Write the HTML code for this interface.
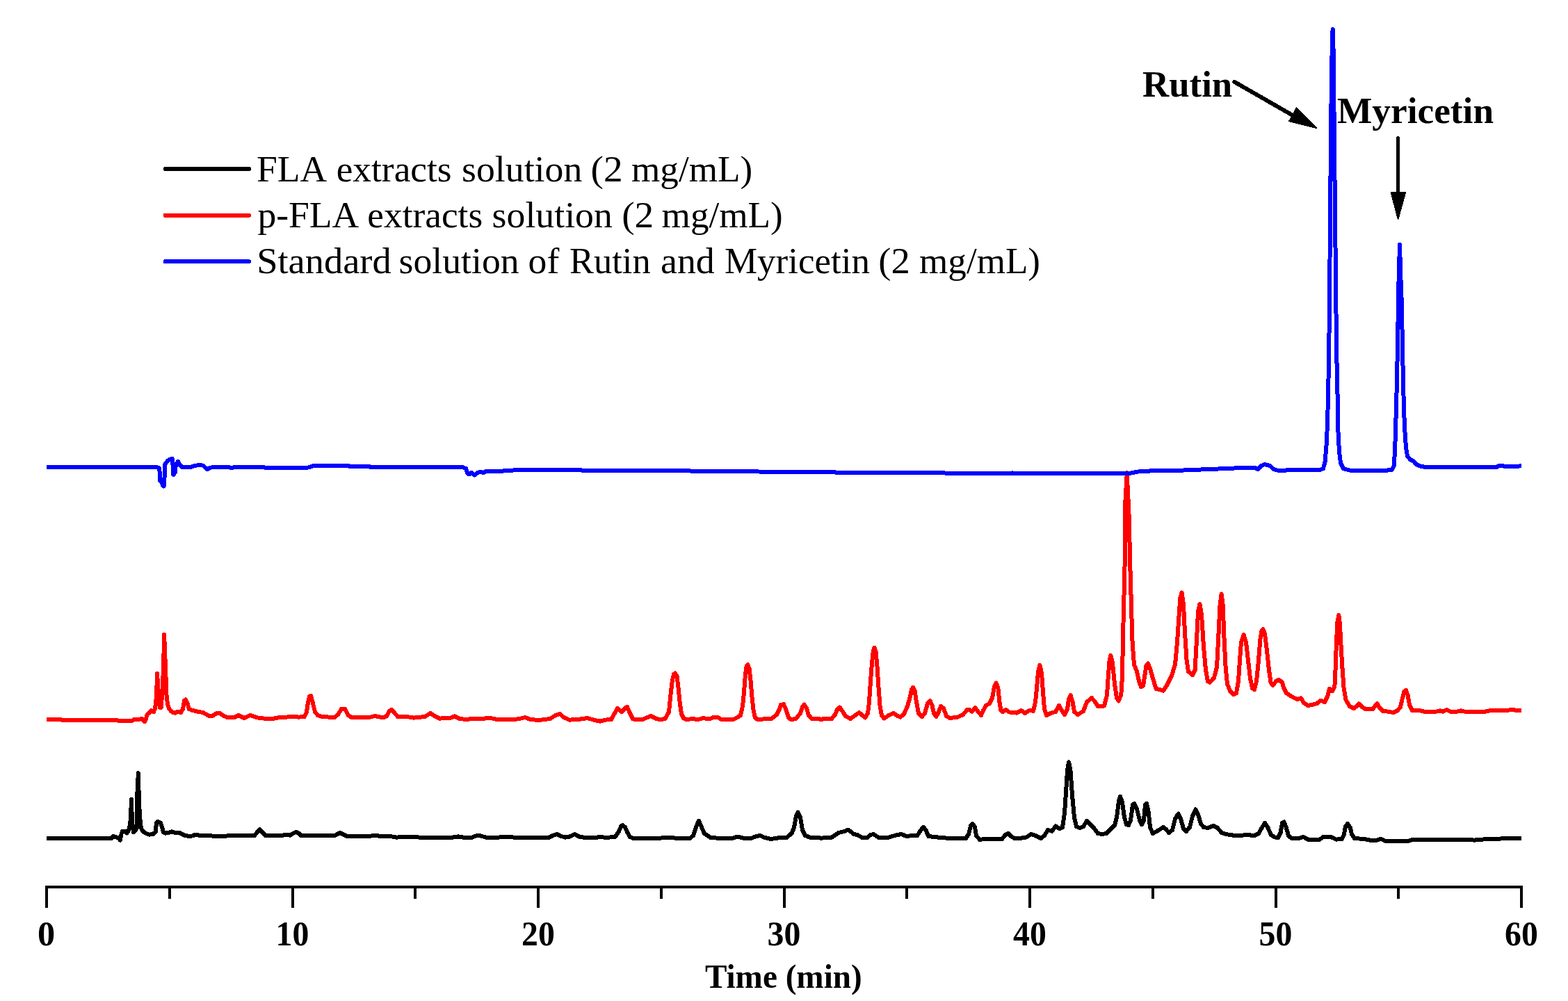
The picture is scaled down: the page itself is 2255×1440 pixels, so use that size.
<!DOCTYPE html>
<html lang="en">
<head>
<meta charset="utf-8">
<title>HPLC chromatograms</title>
<style>
html,body{margin:0;padding:0;background:#fff;}
body{width:2255px;height:1440px;overflow:hidden;}
svg{display:block;}
text{font-family:"Liberation Serif",serif;fill:#000;}
.b{font-weight:bold;}
.curve{fill:none;stroke-width:6;stroke-linejoin:round;stroke-linecap:butt;shape-rendering:crispEdges;}
</style>
</head>
<body>
<svg width="2255" height="1440" viewBox="0 0 2255 1440">
<rect x="0" y="0" width="2255" height="1440" fill="#ffffff"/>
<polyline class="curve" stroke="#000000" points="67.0,1205.6 82.0,1205.6 84.0,1206.0 160.0,1206.0 163.0,1203.0 167.0,1204.5 170.0,1205.0 172.7,1208.6 174.5,1200.0 176.0,1195.6 180.0,1195.6 182.3,1198.5 184.5,1196.0 186.3,1190.0 187.3,1184.0 188.1,1175.0 188.9,1149.8 189.6,1170.0 190.3,1185.0 192.0,1197.4 194.8,1194.3 196.6,1191.0 197.3,1180.0 197.4,1141.0 198.3,1128.0 198.7,1112.3 199.3,1130.0 199.8,1148.0 200.8,1170.0 201.7,1182.0 202.7,1190.0 204.3,1194.2 207.4,1197.3 211.0,1199.5 215.0,1200.6 220.0,1200.0 223.6,1197.0 225.0,1184.0 227.0,1182.0 231.0,1184.0 233.0,1190.0 235.0,1197.0 238.0,1198.6 242.0,1198.0 247.0,1196.4 252.0,1198.0 259.0,1198.4 265.0,1201.6 272.0,1203.0 277.0,1202.4 281.0,1200.6 286.0,1201.6 300.0,1202.0 310.0,1203.0 324.0,1203.0 328.0,1202.0 366.0,1202.0 370.0,1197.0 373.6,1193.0 377.0,1197.0 382.0,1202.0 406.0,1202.0 410.0,1200.6 417.0,1201.6 422.0,1198.6 426.0,1197.0 430.0,1199.0 433.0,1202.0 451.0,1202.0 471.0,1202.0 481.0,1202.4 485.0,1200.0 489.0,1198.0 494.0,1200.6 499.0,1203.0 531.0,1203.0 540.0,1201.6 547.0,1203.0 561.0,1203.0 570.0,1204.6 591.0,1203.6 603.0,1204.6 651.0,1204.6 659.0,1203.4 666.0,1204.6 679.0,1204.6 684.0,1202.6 688.0,1201.6 693.0,1203.0 699.0,1204.6 717.0,1204.6 731.0,1203.6 739.0,1204.6 775.0,1205.0 789.0,1205.0 795.0,1202.0 801.0,1200.0 807.0,1203.0 813.0,1204.6 819.0,1203.6 826.4,1200.0 833.0,1203.6 839.0,1204.6 853.0,1205.4 863.0,1204.0 873.0,1205.0 885.0,1203.6 890.0,1196.0 893.0,1189.0 895.4,1187.0 899.0,1190.0 902.0,1197.0 906.0,1204.0 911.0,1206.0 948.0,1206.0 954.0,1205.0 968.0,1205.0 972.0,1206.0 992.0,1206.0 997.0,1202.0 1001.0,1190.0 1005.0,1180.6 1009.0,1190.0 1013.0,1199.0 1022.0,1205.0 1038.0,1206.0 1054.0,1205.6 1061.0,1203.6 1070.0,1206.0 1080.0,1206.0 1086.0,1203.6 1093.0,1202.0 1100.0,1205.0 1109.0,1207.0 1122.0,1205.0 1132.0,1204.6 1139.0,1198.0 1142.0,1190.0 1145.0,1174.0 1147.6,1168.4 1151.0,1176.0 1154.0,1194.0 1158.0,1202.0 1166.0,1205.0 1182.0,1205.6 1196.0,1204.6 1206.0,1198.0 1214.0,1196.0 1220.0,1193.6 1228.0,1200.0 1233.0,1201.0 1240.0,1205.0 1247.0,1205.0 1252.0,1201.0 1256.0,1200.0 1264.0,1205.0 1278.0,1204.6 1288.0,1201.6 1296.0,1200.0 1304.0,1203.0 1312.0,1202.0 1319.0,1202.4 1323.0,1196.0 1328.0,1189.6 1332.0,1195.0 1335.0,1203.0 1353.0,1205.0 1373.0,1206.4 1389.0,1206.0 1393.0,1200.0 1396.0,1188.0 1398.6,1185.0 1402.0,1190.0 1404.0,1202.0 1409.0,1208.0 1417.0,1206.6 1433.0,1206.6 1441.0,1207.0 1446.0,1201.0 1450.0,1199.0 1454.0,1203.0 1459.0,1206.0 1467.0,1206.0 1476.0,1204.4 1483.0,1200.0 1489.0,1202.0 1497.0,1206.0 1502.0,1202.0 1507.0,1194.0 1513.0,1195.6 1518.0,1188.4 1524.0,1192.4 1528.0,1190.0 1531.0,1170.0 1533.0,1140.0 1535.0,1108.0 1537.0,1096.2 1539.4,1108.0 1542.0,1144.0 1545.0,1176.0 1548.0,1189.0 1553.0,1191.0 1558.0,1189.0 1563.0,1181.0 1568.0,1186.0 1573.0,1191.0 1579.0,1199.0 1585.0,1200.0 1591.0,1199.0 1597.0,1193.0 1603.0,1187.0 1606.0,1176.0 1609.0,1152.0 1611.0,1146.0 1614.0,1154.0 1617.0,1176.0 1620.0,1186.0 1623.0,1187.0 1626.0,1180.0 1629.0,1158.0 1631.4,1156.0 1635.0,1164.0 1639.0,1180.0 1642.0,1186.0 1645.0,1180.0 1647.0,1158.0 1649.0,1156.0 1651.4,1166.0 1654.0,1190.0 1658.0,1199.0 1665.0,1195.0 1673.0,1190.0 1677.0,1193.0 1681.0,1198.0 1686.0,1194.0 1690.0,1178.0 1694.6,1170.6 1698.0,1178.0 1702.0,1192.0 1706.0,1196.0 1711.0,1190.0 1715.0,1174.0 1719.4,1164.4 1723.0,1172.0 1727.0,1185.0 1731.0,1190.0 1737.0,1191.0 1745.0,1188.0 1751.0,1191.0 1757.0,1198.0 1763.0,1200.0 1773.0,1201.6 1783.0,1202.0 1793.0,1201.0 1804.0,1202.0 1810.0,1199.0 1814.0,1192.0 1819.0,1184.0 1823.0,1190.0 1828.0,1201.0 1833.0,1204.4 1838.0,1205.0 1841.6,1198.0 1844.0,1184.0 1846.6,1182.4 1849.6,1190.0 1853.0,1202.0 1857.0,1205.6 1868.0,1206.0 1874.4,1204.0 1881.0,1207.6 1898.0,1207.6 1903.0,1204.0 1913.0,1203.6 1922.0,1207.6 1930.0,1207.0 1933.0,1200.0 1935.0,1189.0 1938.0,1185.0 1941.6,1190.0 1944.0,1200.0 1948.0,1206.0 1962.0,1207.0 1970.0,1208.6 1980.0,1208.6 1985.6,1206.6 1992.0,1209.6 2026.0,1209.6 2030.0,1208.4 2104.0,1208.4 2112.0,1207.6 2120.0,1208.6 2130.0,1208.0 2138.0,1206.6 2152.0,1207.0 2164.0,1206.0 2188.0,1205.6"/>
<polyline class="curve" stroke="#ff0000" points="67.0,1035.4 88.0,1035.4 90.0,1036.0 168.0,1036.0 170.0,1036.8 190.0,1036.8 193.0,1035.0 200.0,1035.0 204.0,1033.6 208.0,1038.0 210.0,1034.0 211.6,1028.0 215.0,1025.0 217.6,1022.0 221.0,1024.0 223.0,1019.0 224.1,1012.0 225.1,999.0 226.1,969.0 226.8,981.0 228.0,1000.0 230.0,1017.8 231.8,1017.8 233.0,1000.0 234.2,980.0 235.2,955.0 236.1,913.0 236.8,930.0 237.8,955.0 238.8,982.0 239.6,1002.0 241.0,1013.0 243.0,1019.0 246.0,1023.0 249.0,1025.0 252.0,1025.6 256.0,1023.6 260.0,1025.0 263.0,1020.0 265.0,1008.0 267.0,1006.4 269.6,1012.0 272.0,1020.0 276.0,1021.6 284.0,1023.6 292.0,1025.0 300.0,1029.6 306.0,1029.6 311.0,1026.4 316.0,1026.0 322.0,1030.0 328.0,1032.4 336.0,1032.4 343.0,1029.0 351.0,1033.0 360.0,1029.0 370.0,1032.4 380.0,1033.6 394.0,1033.6 400.0,1032.4 420.0,1031.0 430.0,1031.6 438.0,1031.0 441.0,1024.0 443.0,1010.0 445.0,1002.0 447.0,1001.0 449.6,1010.0 451.0,1016.0 453.0,1024.0 457.0,1029.0 463.0,1031.0 481.0,1032.0 486.0,1028.0 491.0,1020.0 496.0,1020.0 501.0,1029.0 505.0,1031.6 531.0,1032.0 539.0,1030.0 551.0,1032.4 556.0,1030.0 560.0,1023.0 563.0,1021.0 567.0,1025.0 572.0,1031.0 591.0,1031.6 595.0,1032.6 611.0,1031.0 619.0,1026.0 625.0,1030.0 632.0,1033.6 647.0,1033.0 654.0,1030.4 661.0,1034.0 671.0,1035.0 681.0,1033.6 697.0,1033.6 704.0,1032.6 715.0,1035.0 739.0,1035.0 747.0,1034.0 755.0,1032.0 763.0,1035.0 775.0,1036.0 791.0,1034.0 799.0,1029.0 805.0,1027.0 811.0,1032.0 819.0,1035.6 831.0,1035.0 845.0,1033.0 855.0,1036.0 863.0,1037.6 871.0,1035.6 879.0,1035.0 884.0,1026.0 888.0,1019.0 894.0,1024.0 900.0,1018.0 902.0,1017.0 906.0,1026.0 910.0,1034.0 914.0,1035.4 924.0,1035.4 930.0,1032.4 936.0,1030.0 943.0,1033.6 950.0,1035.4 957.0,1033.6 962.0,1024.0 964.4,1000.0 967.0,978.0 969.0,970.0 971.0,968.4 973.6,973.0 975.6,990.0 977.6,1010.0 980.0,1027.0 983.0,1033.0 988.0,1035.4 996.0,1033.6 1003.0,1035.4 1011.0,1033.0 1020.0,1034.4 1027.0,1031.6 1032.0,1031.6 1038.0,1035.4 1054.0,1035.4 1060.0,1032.4 1065.0,1029.0 1068.0,1016.0 1070.0,996.0 1072.0,970.0 1073.6,958.0 1075.4,956.0 1077.6,962.0 1079.6,980.0 1081.6,1004.0 1083.6,1022.0 1086.0,1032.4 1090.0,1035.4 1098.0,1034.4 1110.0,1033.6 1117.0,1028.0 1121.0,1020.0 1123.0,1014.0 1127.0,1013.0 1130.0,1020.0 1134.0,1032.4 1138.0,1035.4 1145.0,1033.6 1151.0,1026.0 1154.0,1017.0 1156.6,1013.6 1160.0,1019.0 1163.0,1029.0 1168.0,1034.4 1178.0,1034.0 1181.0,1035.4 1184.0,1034.0 1196.0,1034.0 1201.0,1028.0 1204.4,1020.0 1207.6,1017.6 1211.6,1023.0 1216.0,1030.0 1223.0,1034.0 1230.0,1029.0 1235.6,1025.0 1240.0,1029.0 1244.4,1032.4 1248.0,1026.0 1250.0,1010.0 1252.0,980.0 1254.0,954.0 1255.6,938.0 1257.4,931.6 1259.6,938.0 1261.6,960.0 1263.6,990.0 1265.6,1016.0 1268.0,1029.0 1271.6,1033.6 1278.0,1029.0 1285.0,1026.0 1291.0,1030.0 1295.0,1031.6 1300.0,1027.0 1305.0,1016.0 1309.0,1002.0 1311.0,992.0 1313.0,989.0 1315.6,994.0 1318.0,1010.0 1321.0,1026.0 1326.0,1031.0 1330.0,1026.0 1334.0,1012.0 1337.6,1008.4 1340.4,1014.0 1343.0,1026.0 1346.4,1031.0 1350.0,1024.0 1353.0,1016.0 1357.0,1019.0 1361.0,1030.0 1366.0,1033.0 1377.0,1031.6 1385.0,1028.0 1391.0,1021.0 1394.0,1021.0 1398.0,1023.6 1402.6,1018.4 1406.0,1023.0 1411.0,1029.0 1414.0,1022.0 1418.0,1015.0 1423.0,1012.0 1427.0,1004.0 1430.0,988.0 1432.6,982.4 1435.4,990.0 1437.4,1010.0 1439.4,1022.0 1442.0,1024.0 1446.6,1021.0 1451.0,1024.4 1462.0,1025.6 1468.6,1022.0 1474.0,1026.0 1481.0,1021.6 1486.0,1023.0 1489.0,1010.0 1491.0,990.0 1493.0,966.0 1495.4,956.8 1498.0,968.0 1500.0,996.0 1502.0,1020.0 1505.0,1029.0 1512.0,1025.6 1518.0,1024.0 1523.0,1015.0 1527.0,1022.0 1531.0,1028.0 1535.0,1020.0 1537.0,1006.0 1539.6,1000.0 1542.6,1010.0 1545.0,1024.0 1550.0,1028.0 1558.0,1023.0 1563.0,1010.0 1570.0,1004.0 1575.0,1010.0 1579.0,1016.0 1588.0,1015.6 1592.0,1000.0 1594.0,970.0 1595.6,950.0 1597.4,942.7 1600.0,954.0 1603.0,984.0 1606.0,1004.0 1608.6,1008.4 1612.0,1000.0 1613.2,990.0 1614.2,960.0 1615.4,900.0 1616.4,860.0 1617.4,820.0 1618.1,790.0 1618.2,725.0 1619.1,708.0 1620.4,688.0 1620.7,680.1 1620.9,690.0 1622.0,705.0 1623.0,730.0 1624.1,752.0 1624.8,800.0 1625.8,830.0 1627.2,880.0 1628.6,925.0 1631.0,956.0 1635.0,966.0 1638.0,980.0 1641.0,988.0 1644.0,987.0 1646.6,970.0 1648.6,957.0 1651.0,954.4 1654.0,962.0 1658.0,976.0 1662.6,991.0 1668.0,992.0 1673.0,993.6 1678.0,986.0 1685.0,972.0 1690.0,956.0 1693.0,924.0 1695.4,888.0 1697.4,860.0 1699.6,852.4 1702.0,870.0 1704.0,910.0 1706.6,950.0 1709.0,966.0 1715.0,971.0 1718.6,964.0 1721.0,920.0 1723.0,880.0 1725.4,869.0 1728.0,884.0 1731.0,930.0 1734.0,964.0 1737.0,980.0 1740.0,981.6 1746.0,975.0 1750.0,960.0 1752.6,910.0 1754.6,870.0 1756.6,854.4 1758.6,870.0 1760.6,920.0 1762.6,960.0 1765.0,984.0 1769.0,994.0 1774.0,999.0 1778.0,997.0 1781.0,980.0 1783.0,950.0 1785.0,924.0 1788.6,913.0 1792.0,924.0 1795.0,950.0 1798.0,976.0 1801.0,990.0 1804.0,992.0 1807.0,980.0 1810.0,950.0 1812.4,920.0 1814.4,908.0 1816.4,905.0 1819.0,912.0 1822.0,936.0 1825.0,964.0 1827.6,982.0 1830.4,986.0 1835.0,980.0 1839.0,978.0 1843.6,981.0 1846.4,990.0 1850.0,997.0 1856.0,1001.0 1862.0,1004.4 1866.4,1006.0 1871.0,1004.4 1875.0,1011.0 1881.0,1015.0 1888.0,1013.6 1894.0,1012.0 1899.0,1007.6 1905.0,1010.0 1909.0,1002.0 1912.0,991.0 1916.0,994.4 1919.4,988.0 1920.6,962.0 1922.0,922.0 1923.6,893.0 1925.4,884.8 1926.8,896.0 1928.4,926.0 1930.4,960.0 1932.6,990.0 1935.6,1007.0 1941.0,1016.0 1947.0,1019.0 1951.0,1016.0 1954.4,1012.4 1959.0,1017.0 1964.0,1020.4 1974.0,1020.4 1978.0,1015.0 1980.6,1012.4 1984.0,1018.0 1989.0,1023.0 1996.0,1023.6 2004.0,1025.0 2010.0,1022.0 2014.0,1017.0 2017.0,1004.0 2019.6,994.4 2022.0,993.0 2024.6,1000.0 2027.0,1014.0 2031.0,1022.0 2040.0,1021.6 2048.0,1023.6 2064.0,1024.0 2071.0,1022.4 2075.0,1023.6 2080.4,1021.0 2086.0,1023.6 2094.0,1024.0 2101.0,1022.4 2110.0,1024.4 2136.0,1023.6 2144.0,1022.0 2164.0,1022.0 2176.0,1021.0 2183.0,1022.4 2188.0,1022.0"/>
<polyline class="curve" stroke="#0000ff" points="67.0,672.0 180.0,672.0 182.0,672.4 226.0,672.4 228.6,673.0 229.9,680.0 230.0,691.5 232.0,693.0 234.0,698.0 235.6,699.5 236.4,696.0 236.6,680.0 237.2,668.0 241.0,663.0 244.0,661.0 247.6,660.0 248.6,670.0 249.4,683.0 251.6,680.0 253.0,668.0 256.0,664.0 259.0,669.0 262.0,672.0 274.0,672.0 280.0,670.0 286.0,669.0 292.0,669.6 295.6,673.0 298.0,675.0 302.0,673.0 306.0,672.0 330.0,672.4 333.0,673.2 336.0,672.4 380.0,672.4 382.0,673.2 440.0,673.2 445.0,672.0 451.0,670.0 501.0,670.0 503.0,671.0 531.0,671.0 533.0,672.0 666.0,672.4 670.0,674.0 672.0,680.0 674.6,682.4 678.0,680.0 682.6,683.6 687.0,680.0 691.0,678.6 695.0,680.0 700.0,677.6 723.0,677.6 726.0,676.6 751.0,676.4 767.0,675.6 835.0,676.0 837.0,676.6 902.0,676.6 1042.0,678.0 1178.0,679.4 1308.0,680.0 1353.0,680.4 1400.0,681.2 1454.0,681.2 1456.0,680.4 1460.0,681.2 1500.0,681.4 1560.0,681.4 1620.0,681.2 1626.0,680.6 1632.0,679.4 1640.0,678.0 1652.0,677.6 1662.0,677.0 1700.0,676.6 1730.0,675.4 1760.0,674.2 1790.0,672.8 1804.0,672.6 1809.0,675.0 1814.0,670.0 1819.0,668.0 1826.0,670.0 1832.0,675.0 1840.0,677.4 1848.0,676.6 1864.0,675.6 1898.0,676.0 1903.0,674.0 1905.6,664.0 1907.6,640.0 1909.0,610.0 1910.0,570.0 1911.0,520.0 1912.0,440.0 1913.0,308.0 1914.5,150.0 1915.8,60.0 1916.6,42.0 1917.4,60.0 1918.4,150.0 1920.0,308.0 1921.4,440.0 1922.0,500.0 1923.4,560.0 1924.4,620.0 1926.0,650.0 1928.0,666.0 1932.0,674.0 1940.0,676.4 1950.0,677.4 1992.0,677.4 1996.0,676.4 2002.0,675.6 2004.6,670.0 2006.0,650.0 2007.0,620.0 2008.4,570.0 2009.2,538.0 2010.4,470.0 2011.6,400.0 2013.0,352.0 2014.4,400.0 2016.0,440.0 2016.6,480.0 2017.6,530.0 2019.0,590.0 2020.4,620.0 2022.0,644.0 2024.0,656.0 2028.0,661.0 2033.0,663.6 2037.0,668.0 2042.0,670.4 2050.0,672.0 2064.0,672.4 2152.0,672.0 2156.0,670.0 2160.0,669.6 2164.0,671.0 2182.0,671.0 2188.0,670.0"/>
<g stroke="#000" stroke-width="4" fill="none" stroke-linecap="butt" shape-rendering="crispEdges">
<line x1="65.0" y1="1276.0" x2="2190.0" y2="1276.0"/>
<line x1="67.0" y1="1276.0" x2="67.0" y2="1306"/>
<line x1="243.8" y1="1276.0" x2="243.8" y2="1292.5"/>
<line x1="420.5" y1="1276.0" x2="420.5" y2="1306"/>
<line x1="597.2" y1="1276.0" x2="597.2" y2="1292.5"/>
<line x1="774.0" y1="1276.0" x2="774.0" y2="1306"/>
<line x1="950.8" y1="1276.0" x2="950.8" y2="1292.5"/>
<line x1="1127.5" y1="1276.0" x2="1127.5" y2="1306"/>
<line x1="1304.2" y1="1276.0" x2="1304.2" y2="1292.5"/>
<line x1="1481.0" y1="1276.0" x2="1481.0" y2="1306"/>
<line x1="1657.8" y1="1276.0" x2="1657.8" y2="1292.5"/>
<line x1="1834.5" y1="1276.0" x2="1834.5" y2="1306"/>
<line x1="2011.2" y1="1276.0" x2="2011.2" y2="1292.5"/>
<line x1="2188.0" y1="1276.0" x2="2188.0" y2="1306"/>
</g>
<text class="b" x="66.5" y="1360.3" font-size="50.3" text-anchor="middle">0</text>
<text class="b" x="396.6" y="1360.3" font-size="50.3" textLength="47.8" lengthAdjust="spacingAndGlyphs">10</text>
<text class="b" x="750.1" y="1360.3" font-size="50.3" textLength="47.8" lengthAdjust="spacingAndGlyphs">20</text>
<text class="b" x="1103.6" y="1360.3" font-size="50.3" textLength="47.8" lengthAdjust="spacingAndGlyphs">30</text>
<text class="b" x="1457.1" y="1360.3" font-size="50.3" textLength="47.8" lengthAdjust="spacingAndGlyphs">40</text>
<text class="b" x="1810.6" y="1360.3" font-size="50.3" textLength="47.8" lengthAdjust="spacingAndGlyphs">50</text>
<text class="b" x="2164.1" y="1360.3" font-size="50.3" textLength="47.8" lengthAdjust="spacingAndGlyphs">60</text>
<text class="b" x="1013.9" y="1421" font-size="47.6" textLength="225.8" lengthAdjust="spacingAndGlyphs">Time (min)</text>
<line x1="237.5" y1="243.0" x2="358" y2="243.0" stroke="#000000" stroke-width="6" stroke-linecap="round" shape-rendering="crispEdges"/>
<text y="260.6" font-size="53.6"><tspan x="369.0" textLength="98.3" lengthAdjust="spacingAndGlyphs">FLA</tspan> <tspan x="483.7" textLength="165.9" lengthAdjust="spacingAndGlyphs">extracts</tspan> <tspan x="664.0" textLength="173.3" lengthAdjust="spacingAndGlyphs">solution</tspan> <tspan x="849.6" textLength="46.1" lengthAdjust="spacingAndGlyphs">(2</tspan> <tspan x="908.0" textLength="174.2" lengthAdjust="spacingAndGlyphs">mg/mL)</tspan></text>
<line x1="237.5" y1="309.8" x2="358" y2="309.8" stroke="#ff0000" stroke-width="6" stroke-linecap="round" shape-rendering="crispEdges"/>
<text y="327.0" font-size="53.6"><tspan x="370.4">p-FLA</tspan> <tspan x="528.3" textLength="165.9" lengthAdjust="spacingAndGlyphs">extracts</tspan> <tspan x="707.6" textLength="173.3" lengthAdjust="spacingAndGlyphs">solution</tspan> <tspan x="894.2" textLength="46.1" lengthAdjust="spacingAndGlyphs">(2</tspan> <tspan x="951.6" textLength="174.2" lengthAdjust="spacingAndGlyphs">mg/mL)</tspan></text>
<line x1="237.5" y1="376.3" x2="358" y2="376.3" stroke="#0000ff" stroke-width="6" stroke-linecap="round" shape-rendering="crispEdges"/>
<text y="393.4" font-size="53.6"><tspan x="369.2" textLength="193.5" lengthAdjust="spacingAndGlyphs">Standard</tspan> <tspan x="573.5" textLength="173.1" lengthAdjust="spacingAndGlyphs">solution</tspan> <tspan x="759.6">of</tspan> <tspan x="819.1" textLength="116.5" lengthAdjust="spacingAndGlyphs">Rutin</tspan> <tspan x="950.0" textLength="77.8" lengthAdjust="spacingAndGlyphs">and</tspan> <tspan x="1041.9" textLength="209.1" lengthAdjust="spacingAndGlyphs">Myricetin</tspan> <tspan x="1263.3" textLength="45.5" lengthAdjust="spacingAndGlyphs">(2</tspan> <tspan x="1322.1" textLength="173.9" lengthAdjust="spacingAndGlyphs">mg/mL)</tspan></text>
<text class="b" x="1643" y="138.8" font-size="53.3" textLength="129.2" lengthAdjust="spacingAndGlyphs">Rutin</text>
<text class="b" x="1923" y="177" font-size="53.5" textLength="225.1" lengthAdjust="spacingAndGlyphs">Myricetin</text>
<line x1="1775.3" y1="117.8" x2="1862" y2="167.6" stroke="#000" stroke-width="6" stroke-linecap="round" shape-rendering="crispEdges"/>
<polygon points="1893.6,184.3 1864.7,154.8 1853.8,174.4" fill="#000" stroke="#000" stroke-width="1.5" stroke-linejoin="round" shape-rendering="crispEdges"/>
<line x1="2010.6" y1="198.6" x2="2010.6" y2="282" stroke="#000" stroke-width="5.3" stroke-linecap="round" shape-rendering="crispEdges"/>
<polygon points="2000.4,277 2021.4,277 2010.6,315.6" fill="#000" stroke="#000" stroke-width="1.5" stroke-linejoin="round" shape-rendering="crispEdges"/>
</svg>
</body>
</html>
